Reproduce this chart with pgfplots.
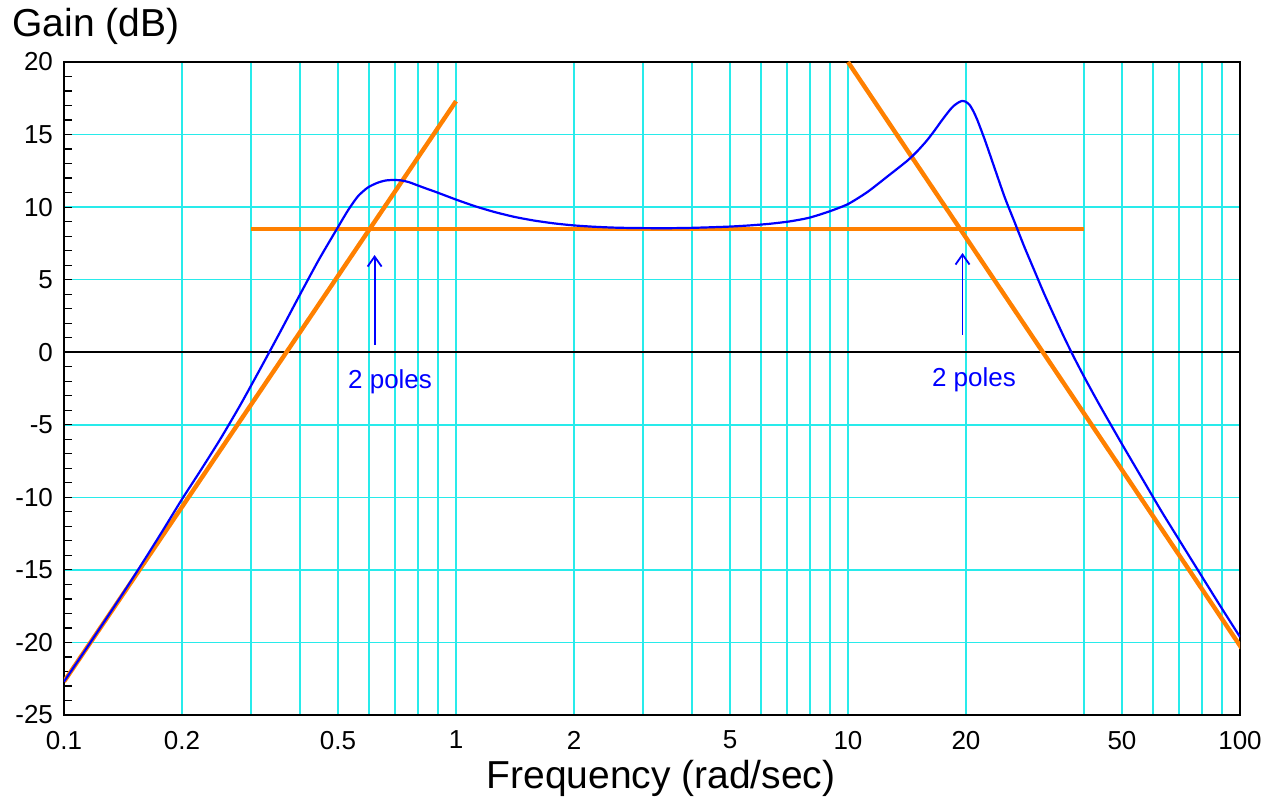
\documentclass[border=0pt]{standalone}
\usepackage{fontspec}
\setmainfont{Liberation Sans}
\usepackage{pgfplots}
\pgfplotsset{compat=1.18}
\usetikzlibrary{arrows.meta}
\definecolor{gridcyan}{RGB}{40,235,235}
\definecolor{bodeblue}{RGB}{0,0,255}
\definecolor{asymorange}{RGB}{255,128,0}
\newcommand{\ticksize}{\fontsize{13}{15}\selectfont}
\newcommand{\labsize}{\fontsize{19.5}{22}\selectfont}

\begin{document}
\begin{tikzpicture}
\begin{axis}[
  scale only axis, width=588pt, height=326.5pt,
  xmode=log, xmin=0.1, xmax=100, ymin=-25, ymax=20,
  xtick={0.1,0.2,0.5,1,2,5,10,20,50,100},
  xticklabels={0.1,0.2,0.5,1,2,5,10,20,50,100},
  minor xtick={0.3,0.4,0.6,0.7,0.8,0.9,3,4,6,7,8,9,40,60,70,80,90},
  ytick={-25,-20,...,20},
  yticklabels={-25,-20,-15,-10,-5,0,5,10,15,20},
  minor y tick num=4,
  ytick pos=left, tick align=inside,
  major tick length=4pt, minor tick length=4pt,
  xmajorgrids, xminorgrids, ymajorgrids,
  major grid style={draw=gridcyan, line width=0.8pt},
  minor grid style={draw=gridcyan, line width=0.8pt},
  axis line style={line width=1.3pt},
  every tick/.style={black, line width=0.6pt},
  x tick style={draw=none},
  tick label style={font=\ticksize},
  yticklabel style={xshift=-2pt},
  xticklabel style={yshift=-4.5pt},
]
\coordinate (ll) at (rel axis cs:0,0);
\coordinate (ur) at (rel axis cs:1,1);
\coordinate (ul) at (rel axis cs:0,1);

% 0 dB line
\draw[black, line width=1.2pt] (axis cs:0.1,0) -- (axis cs:100,0);

% asymptotes
\addplot[asymorange, line width=2.2pt] coordinates {(0.1,-22.7) (1,17.3)};
\addplot[asymorange, line width=2.2pt] coordinates {(0.3,8.5) (40,8.5)};
\addplot[asymorange, line width=2.2pt] coordinates {(10,20) (101,-20.4)};

% measured gain
\addplot[bodeblue, line width=1.1pt, smooth, tension=0.4] coordinates {
  (0.1,-22.70) (0.1122,-20.70) (0.1259,-18.68) (0.1413,-16.63) (0.1585,-14.53)
  (0.1778,-12.38) (0.1995,-10.18) (0.2239,-8.08) (0.2512,-5.93) (0.2818,-3.63)
  (0.3162,-1.18) (0.3548,1.32) (0.3981,3.87) (0.4467,6.37) (0.5012,8.67)
  (0.5309,9.80) (0.5623,10.75) (0.5957,11.35) (0.6310,11.68) (0.6607,11.83)
  (0.6918,11.87) (0.7244,11.84) (0.7586,11.72) (0.7943,11.52) (0.8414,11.27)
  (0.8913,11.03) (1.0,10.52) (1.122,10.05) (1.259,9.65) (1.413,9.32)
  (1.585,9.07) (1.778,8.88) (1.995,8.74) (2.239,8.65) (2.512,8.59)
  (2.818,8.56) (3.162,8.55) (3.548,8.55) (3.981,8.57) (4.467,8.61)
  (5.012,8.66) (5.623,8.74) (6.310,8.85) (7.079,9.01) (7.943,9.26)
  (8.913,9.68) (10.0,10.21) (11.22,11.05) (12.59,12.10) (14.13,13.17)
  (14.96,13.80) (15.85,14.55) (16.60,15.25) (17.38,16.00) (18.20,16.70)
  (18.62,16.98) (19.05,17.18) (19.50,17.31) (19.95,17.27) (20.42,17.05)
  (20.89,16.60) (21.38,16.00) (22.39,14.56) (23.71,12.61) (25.12,10.66)
  (26.61,8.96) (28.18,7.26) (29.85,5.66) (31.62,4.06) (33.50,2.56)
  (35.48,1.11) (37.58,-0.27) (39.81,-1.57) (42.17,-2.82) (44.67,-4.03)
  (50.12,-6.38) (56.23,-8.68) (63.10,-10.98) (70.79,-13.16) (79.43,-15.33)
  (89.13,-17.50) (100,-19.62)
};

% annotations
\draw[bodeblue, line width=0.9pt, -{Straight Barb[length=5pt,width=7pt]}]
  (axis cs:0.62,0.5) -- (axis cs:0.62,6.7);
\draw[bodeblue, line width=0.9pt, -{Straight Barb[length=5pt,width=7pt]}]
  (axis cs:19.6,1.19) -- (axis cs:19.6,6.84);
\node[bodeblue, anchor=base, font=\ticksize, inner sep=0pt] at (axis cs:0.679,-2.47) {2 poles};
\node[bodeblue, anchor=base, font=\ticksize, inner sep=0pt] at (axis cs:20.96,-2.33) {2 poles};
\end{axis}

\node[anchor=base west, font=\labsize, inner sep=0pt] at ([xshift=-26pt,yshift=12.5pt]ul) {Gain (dB)};
\node[anchor=base, font=\labsize, inner sep=0pt] at ([xshift=298.5pt,yshift=-36.5pt]ll) {Frequency (rad/sec)};

\pgfresetboundingbox
\path[use as bounding box] ([xshift=-32pt,yshift=-45pt]ll) rectangle ([xshift=18.5pt,yshift=31pt]ur);
\end{tikzpicture}
\end{document}
